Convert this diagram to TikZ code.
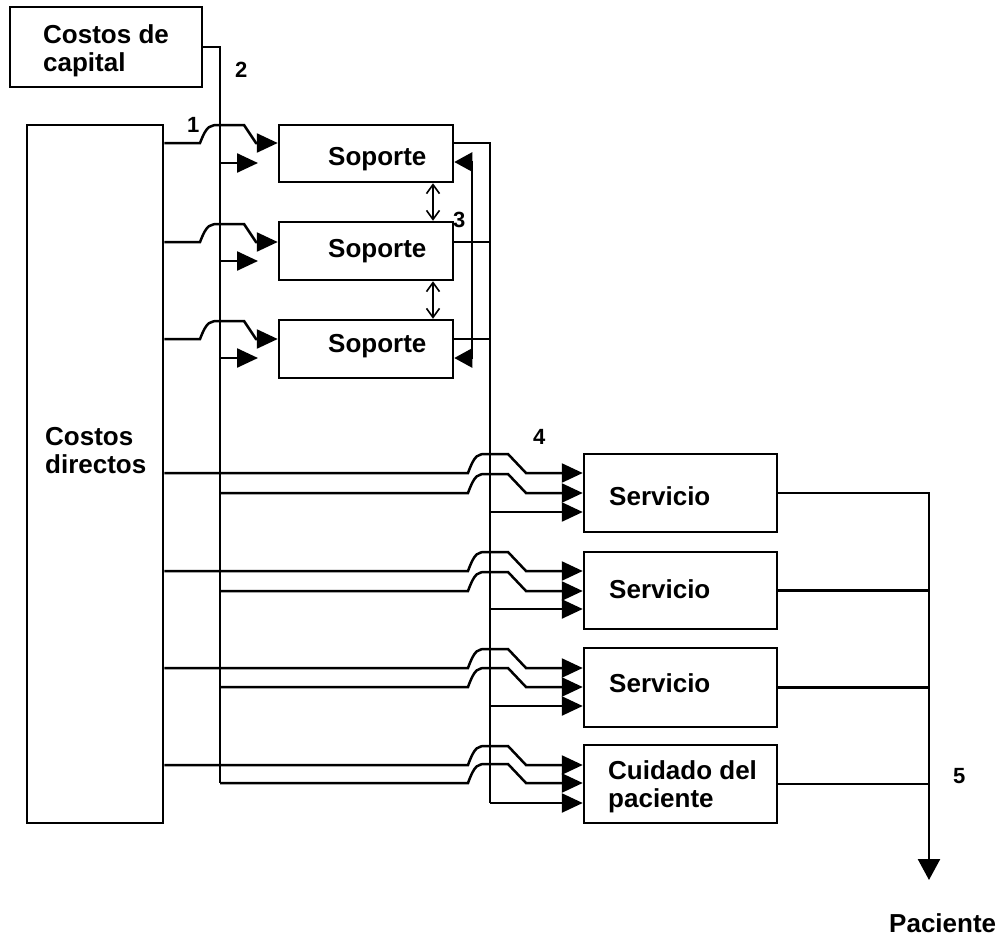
\documentclass[tikz,border=0pt]{standalone}
\usepackage{fontspec}
\setmainfont{Liberation Sans}
\usetikzlibrary{arrows.meta,calc}
\tikzset{
  box/.style={draw, line width=2.5pt, inner sep=0pt},
  txt/.style={font=\bfseries\fontsize{26}{27.5}\selectfont, inner sep=0pt, anchor=base west, align=left},
  num/.style={font=\bfseries\fontsize{22}{22}\selectfont, inner sep=0pt, anchor=base west},
  conn/.style={line width=2.5pt},
  arr/.style={-{Triangle[length=21pt,width=19pt]}},
  fb/.style={{Triangle[length=18pt,width=19pt]}-{Triangle[length=18pt,width=19pt]}},
  dbl/.style={line width=1.6pt,{Straight Barb[length=9pt,width=13pt]}-{Straight Barb[length=9pt,width=13pt]}},
}
\begin{document}
\begin{tikzpicture}[x=1pt,y=-1pt]
\useasboundingbox (0,0) rectangle (1002,943);
% boxes
\node[box, minimum width=192pt, minimum height=80pt] (cap) at (106,47) {};
\node[box, minimum width=136pt, minimum height=698pt] (dir) at (95,474) {};
\node[box, minimum width=174pt, minimum height=57pt] (s1) at (366,153.5) {};
\node[box, minimum width=174pt, minimum height=58pt] (s2) at (366,251) {};
\node[box, minimum width=174pt, minimum height=58pt] (s3) at (366,349) {};
\node[box, minimum width=193pt, minimum height=78pt] (v1) at (680.5,493) {};
\node[box, minimum width=193pt, minimum height=77pt] (v2) at (680.5,590.5) {};
\node[box, minimum width=193pt, minimum height=79pt] (v3) at (680.5,687.5) {};
\node[box, minimum width=193pt, minimum height=78pt] (v4) at (680.5,784) {};
% texts (base anchor = baseline of last line)
\node[txt] (tcap) at (43,71) {Costos de\\capital};
\node[txt] (tdir) at (45,473) {Costos\\directos};
\node[txt] (ts1) at (328,165) {Soporte};
\node[txt] (ts2) at (328,257) {Soporte};
\node[txt] (ts3) at (328,352) {Soporte};
\node[txt] (tv1) at (609,505) {Servicio};
\node[txt] (tv2) at (609,598) {Servicio};
\node[txt] (tv3) at (609,692) {Servicio};
\node[txt] (tv4) at (608,807) {Cuidado del\\paciente};
\node[txt] (pac) at (889,932) {Paciente};
\node[num] (n1) at (187,132) {1};
\node[num] (n2) at (235,77) {2};
\node[num] (n3) at (453,227) {3};
\node[num] (n4) at (533,444) {4};
\node[num] (n5) at (953,783) {5};
% helper coordinates
\coordinate (cb) at (220,783);   % capital bus bottom
\coordinate (sb) at (490,803);   % support bus bottom
\coordinate (fx) at (472,0);     % feedback line x
\coordinate (dx) at (433,0);     % double arrows x
\coordinate (ob) at (929,880);   % output arrow tip
\foreach \i/\y in {1/143,2/242,3/339}{\coordinate (sy\i) at (0,\y);}
\foreach \i/\y in {1/163,2/261,3/358}{\coordinate (sl\i) at (258,\y);}
% capital bus
\draw[conn] (cap.east |- 0,47) -| (cb);
% support bus
\draw[conn] (s1.east |- sy1) -| (sb);
\draw[conn] (s2.east |- sy2) -- (sy2 -| sb);
\draw[conn] (s3.east |- sy3) -- (sy3 -| sb);
% inputs to support
\foreach \i/\y in {1/143,2/242,3/339}{
  \draw[conn,arr] (dir.east |- sy\i) -- (200,\y) .. controls (207,\y-18) and (210,\y-18) .. (220,\y-18)
     -- (244,\y-18) -- (256,\y) -- (s\i.west |- sy\i);
  \draw[conn,arr] (cb |- sl\i) -- (sl\i);
}
% feedback among supports
\draw[conn,fb] (s1.east |- 0,162) -- (fx |- 0,162) -- (fx |- 0,358) -- (s3.east |- 0,358);
\draw[dbl] (s1.south -| dx) -- (s2.north -| dx);
\draw[dbl] (s2.south -| dx) -- (s3.north -| dx);
% inputs to services
\foreach \v/\a/\b/\c in {v1/473/493/512, v2/571/591/609, v3/668/687/706, v4/765/783/803}{
  \draw[conn,arr] (dir.east |- 0,\a) -- (468,\a) .. controls (475,\a-19) and (478,\a-19) .. (487,\a-19)
     -- (508,\a-19) -- (526,\a) -- (\v.west |- 0,\a);
  \draw[conn,arr] (cb |- 0,\b) -- (468,\b) .. controls (475,\b-19) and (478,\b-19) .. (487,\b-19)
     -- (508,\b-19) -- (526,\b) -- (\v.west |- 0,\b);
  \draw[conn,arr] (sb |- 0,\c) -- (\v.west |- 0,\c);
}
% outputs
\draw[conn,-{Triangle[length=21pt,width=22pt]}] (v1.east) -| (ob);
\draw[conn] (v2.east) -- (v2.east -| ob);
\draw[conn] (v3.east) -- (v3.east -| ob);
\draw[conn] (v4.east) -- (v4.east -| ob);
\end{tikzpicture}
\end{document}
